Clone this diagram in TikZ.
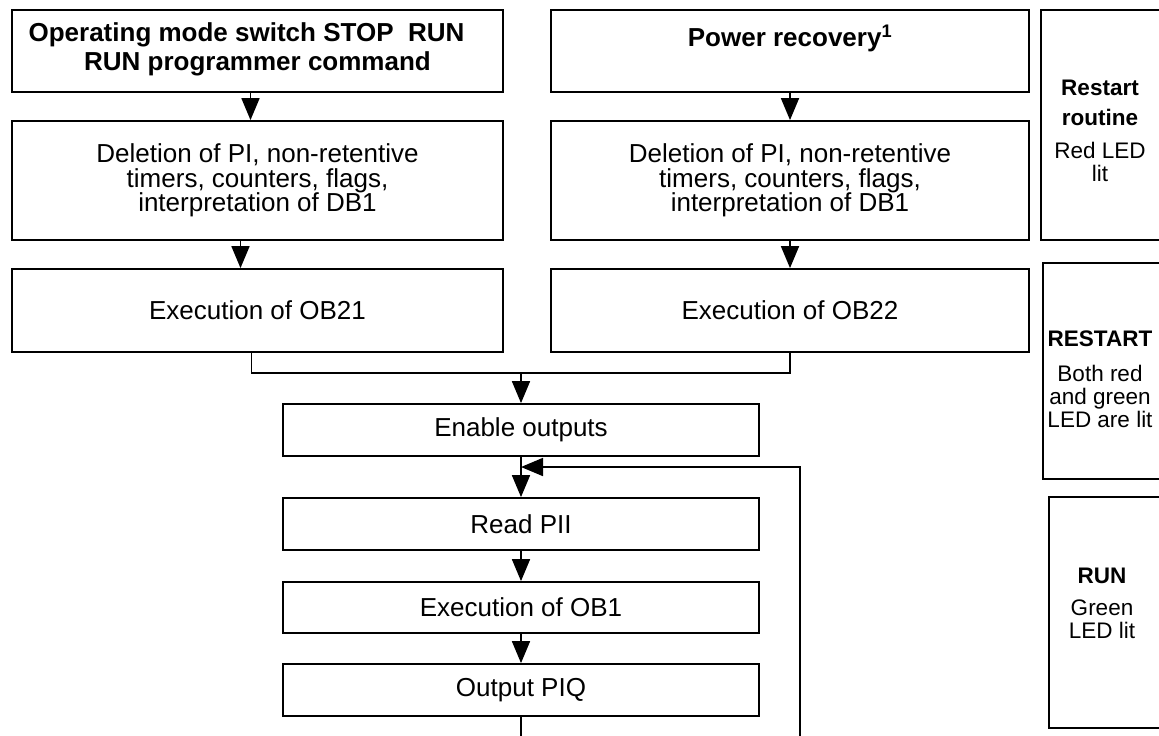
\documentclass[tikz,border=0pt]{standalone}
\usepackage{fontspec}
\setmainfont{Liberation Sans}
\usetikzlibrary{arrows.meta}
\begin{document}
\begin{tikzpicture}[x=1pt,y=-1pt,
  box/.style={draw, line width=1.8pt, inner sep=0pt, align=center,
    font=\fontsize{26}{24.5}\selectfont},
  titlebox/.style={box, font=\fontsize{26}{29}\selectfont\bfseries},
  sidebox/.style={draw, line width=1.8pt, inner sep=0pt},
  sidetext/.style={inner sep=0pt, align=center, font=\fontsize{22.5}{23}\selectfont},
  conn/.style={line width=1.8pt},
  arr/.style={line width=1.8pt, -{Triangle[length=22pt,width=18pt]}}]
\useasboundingbox (0,0) rectangle (1159,736);
\clip (0,0) rectangle (1159,736);
% left column
\node[titlebox, minimum width=491pt, minimum height=82pt] (op) at (257.5,51)
  {Operating mode switch STOP\ \ RUN\hspace*{22pt}\\RUN programmer command\\[-21pt]\mbox{}};
\node[box, minimum width=491pt, minimum height=119pt] (del1) at (257.5,180.5)
  {Deletion of PI, non-retentive\\timers, counters, flags,\\interpretation of DB1};
\node[box, minimum width=491pt, minimum height=83pt] (ob21) at (257.5,310.5) {Execution of OB21};
% right column
\node[titlebox, minimum width=478pt, minimum height=82pt] (pr) at (790,51)
  {Power recovery\textsuperscript{1}\\[1pt]\mbox{}};
\node[box, minimum width=478pt, minimum height=119pt] (del2) at (790,180.5)
  {Deletion of PI, non-retentive\\timers, counters, flags,\\interpretation of DB1};
\node[box, minimum width=478pt, minimum height=83pt] (ob22) at (790,310.5) {Execution of OB22};
% centre column
\node[box, minimum width=476pt, minimum height=52pt] (en) at (521,430) {Enable outputs};
\node[box, minimum width=476pt, minimum height=52pt] (rp) at (521,524) {Read PII};
\node[box, minimum width=476pt, minimum height=51pt] (ob1) at (521,607.5) {Execution of OB1};
\node[box, minimum width=476pt, minimum height=52pt] (piq) at (521,690) {Output PIQ};
% side boxes
\node[sidebox, minimum width=140pt, minimum height=230pt] (rr) at (1111,125) {};
\node[sidetext] (rrt) at (1100,131)
  {\textbf{Restart}\\[7pt]\textbf{routine}\\[10pt]Red LED\\lit};
\node[sidebox, minimum width=140pt, minimum height=216pt] (rs) at (1113,371) {};
\node[sidetext] (rst) at (1100,379)
  {\textbf{RESTART}\\[12pt]Both red\\and green\\LED are lit};
\node[sidebox, minimum width=140pt, minimum height=231pt] (rn) at (1119,612.5) {};
\node[sidetext] (rnt) at (1102,603)
  {\textbf{RUN}\\[9pt]Green\\LED lit};
% connectors
\coordinate (jy) at (0,373);
\coordinate (ly) at (0,467);
\coordinate (lp) at (800,770);
\draw[arr] ([xshift=-7pt]op.south) -- ([xshift=-7pt]op.south |- del1.north);
\draw[arr] ([xshift=-17pt]del1.south) -- ([xshift=-17pt]del1.south |- ob21.north);
\draw[arr] (pr.south) -- (del2.north);
\draw[arr] (del2.south) -- (ob22.north);
\coordinate (join) at (en.north |- jy);
\draw[conn] ([xshift=-6pt]ob21.south) |- (join) -| (ob22.south);
\draw[arr] (join) -- (en.north);
\draw[arr] (en.south) -- (rp.north);
\draw[arr] (rp.south) -- (ob1.north);
\draw[arr] (ob1.south) -- (piq.north);
\coordinate (entry) at (en.south |- ly);
\draw[arr] (piq.south) |- (lp) |- (entry);
\end{tikzpicture}
\end{document}
